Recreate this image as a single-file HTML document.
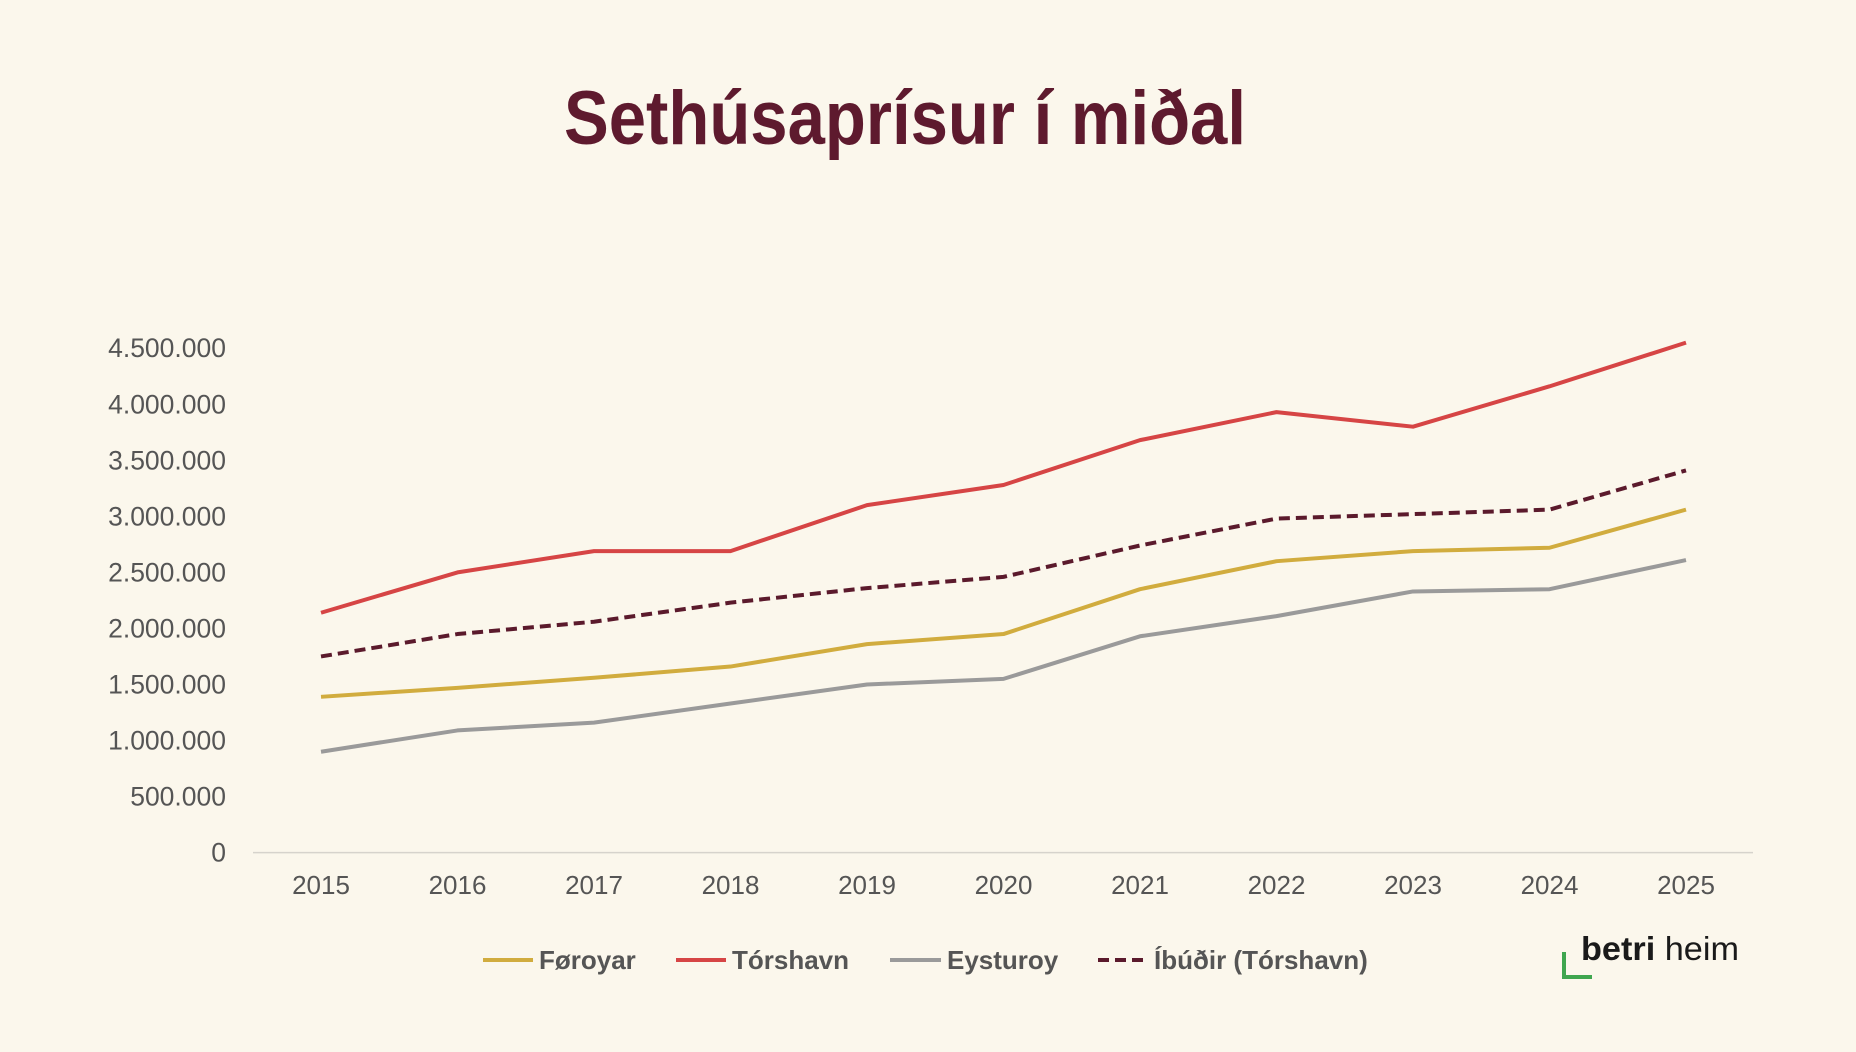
<!DOCTYPE html>
<html><head><meta charset="utf-8"><style>
html,body{margin:0;padding:0;background:#fbf7ec;}
svg{display:block;font-family:"Liberation Sans",sans-serif;}
</style></head><body>
<svg id="chart" width="1856" height="1052" viewBox="0 0 1856 1052" xmlns="http://www.w3.org/2000/svg">
<rect width="1856" height="1052" fill="#fbf7ec"/>
<text x="905" y="144" text-anchor="middle" font-size="76" font-weight="bold" fill="#5e1a2e" textLength="682" lengthAdjust="spacingAndGlyphs">Sethúsaprísur í miðal</text>
<g id="axes"></g>
<g id="series"></g>
<g font-size="26" font-weight="bold" fill="#555">
 <line x1="483" y1="960" x2="533" y2="960" stroke="#d1ac3e" stroke-width="4"/>
 <text x="539" y="969">Føroyar</text>
 <line x1="676" y1="960" x2="726" y2="960" stroke="#d64545" stroke-width="4"/>
 <text x="732" y="969">Tórshavn</text>
 <line x1="890" y1="960" x2="941" y2="960" stroke="#9a9a9a" stroke-width="4"/>
 <text x="947" y="969">Eysturoy</text>
 <line x1="1098" y1="960" x2="1148" y2="960" stroke="#5b1a2c" stroke-width="4" stroke-dasharray="11,6"/>
 <text x="1154" y="969">Íbúðir (Tórshavn)</text>
</g>
<g>
 <path d="M1564 952 V977 H1592" fill="none" stroke="#3fa64f" stroke-width="4"/>
 <text x="1581" y="960" font-size="33" fill="#1a1a1a" textLength="158" lengthAdjust="spacingAndGlyphs"><tspan font-weight="bold">betri</tspan> heim</text>
</g>
</svg>
<script>
const years = [2015,2016,2017,2018,2019,2020,2021,2022,2023,2024,2025];
const torshavn = [2140000,2500000,2690000,2690000,3100000,3280000,3680000,3930000,3800000,4160000,4550000];
const ibudir = [1750000,1950000,2060000,2230000,2360000,2460000,2740000,2980000,3020000,3060000,3410000];
const foroyar = [1390000,1470000,1560000,1660000,1860000,1950000,2350000,2600000,2690000,2720000,3060000];
const eysturoy = [900000,1090000,1160000,1330000,1500000,1550000,1930000,2110000,2330000,2350000,2610000];
const yTicks = [0,500000,1000000,1500000,2000000,2500000,3000000,3500000,4000000,4500000];
const yTickLabels = ["0","500.000","1.000.000","1.500.000","2.000.000","2.500.000","3.000.000","3.500.000","4.000.000","4.500.000"];

const NS="http://www.w3.org/2000/svg";
const x0=321, x1=1686, y0=852.6, yPer=56.04/500000;
function xs(i){return x0+(x1-x0)*i/(years.length-1);}
function ys(v){return y0-v*yPer;}
const axes=document.getElementById('axes');
const base=document.createElementNS(NS,'line');
base.setAttribute('x1',253);base.setAttribute('x2',1753);
base.setAttribute('y1',y0);base.setAttribute('y2',y0);
base.setAttribute('stroke','#d6d3cc');base.setAttribute('stroke-width','1.5');


axes.appendChild(base);
yTicks.forEach((v,i)=>{
  const t=document.createElementNS(NS,'text');
  t.setAttribute('x',226);t.setAttribute('y',ys(v)+9);
  t.setAttribute('text-anchor','end');t.setAttribute('font-size','26.5');t.setAttribute('fill','#555');
  t.textContent=yTickLabels[i];
  
  
  axes.appendChild(t);
});
years.forEach((yr,i)=>{
  const t=document.createElementNS(NS,'text');
  t.setAttribute('x',xs(i));t.setAttribute('y',894);
  t.setAttribute('text-anchor','middle');t.setAttribute('font-size','26');t.setAttribute('fill','#555');
  t.textContent=yr;
  
  
  axes.appendChild(t);
});
const ser=document.getElementById('series');
function line(vals,color,dash,name){
  const p=document.createElementNS(NS,'polyline');
  p.setAttribute('points',vals.map((v,i)=>xs(i)+','+ys(v)).join(' '));
  p.setAttribute('fill','none');p.setAttribute('stroke',color);p.setAttribute('stroke-width','4');
  p.setAttribute('stroke-linejoin','round');
  if(dash)p.setAttribute('stroke-dasharray',dash);
  
  
  ser.appendChild(p);
}
line(eysturoy,'#9a9a9a',null,'series-eysturoy');
line(foroyar,'#d1ac3e',null,'series-foroyar');
line(ibudir,'#5b1a2c','11,6','series-ibudir-torshavn');
line(torshavn,'#d64545',null,'series-torshavn');
</script>
</body></html>
